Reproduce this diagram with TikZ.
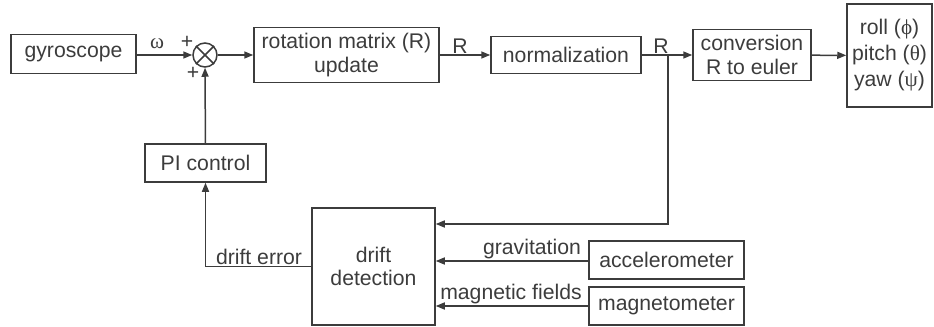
\documentclass[tikz,border=0pt]{standalone}
\usepackage{fontspec}
\setmainfont{Liberation Sans}
\newfontfamily\grk{Liberation Serif}
\usetikzlibrary{arrows.meta}
\definecolor{ink}{HTML}{3C3C3C}
\tikzset{
  block/.style={draw=ink, line width=0.75pt, text=ink, inner sep=0pt, align=center, font=\fontsize{10.6}{11.6}\selectfont},
  lbl/.style={text=ink, inner sep=0pt, font=\fontsize{10.6}{11.6}\selectfont},
  sig/.style={draw=ink, line width=0.75pt, -{Triangle[length=4.5pt,width=3.5pt]}},
  wire/.style={draw=ink, line width=0.75pt}
}
\begin{document}
\begin{tikzpicture}[x=0.5pt, y=-0.5pt]
            \useasboundingbox (0,0) rectangle (934,327);

            % Forward path
            \node[block, minimum width=62.5pt, minimum height=19.5pt] (gyro) at (73.5,54) {gyroscope};
            \node[draw=ink, line width=0.75pt, circle, minimum size=12pt, inner sep=0pt] (sum) at (205,55) {};
            \draw[wire] (sum.45) -- (sum.225) (sum.135) -- (sum.315);
            \node[block, minimum width=92.5pt, minimum height=27.5pt] (rot) at (346.5,55) {rotation matrix (R)\\update};
            \node[block, minimum width=75pt, minimum height=18.5pt] (norm) at (566,55) {normalization};
            \node[block, minimum width=59pt, minimum height=25.5pt] (conv) at (752,55) {conversion\\R to euler};
            \node[block, minimum width=42.5pt, minimum height=51.5pt, font=\fontsize{10.6}{13}\selectfont] (out) at (889.5,55.5) {roll ({\grk ϕ})\\pitch ({\grk θ})\\yaw ({\grk ψ})};

            \draw[sig] (gyro.east |- sum) -- (sum);
            \draw[sig] (sum) -- (rot);
            \draw[sig] (rot) -- (norm);
            \draw[sig] (norm) -- (conv);
            \draw[sig] (conv) -- (out);

            \node[lbl] (omega) at (157,44) {\grk ω};
            \node[lbl] (plus1) at (187,42) {+};
            \node[lbl] (plus2) at (193,73) {+};
            \node[lbl] (r1) at (460,46) {R};
            \node[lbl] (r2) at (661,46) {R};

            % Feedback path
            \node[block, minimum width=60.5pt, minimum height=19pt] (pi) at (205.5,163) {PI control};
            \node[block, minimum width=61.5pt, minimum height=58.5pt] (drift) at (373.5,266.5) {drift\\detection};
            \node[block, minimum width=77.5pt, minimum height=19pt] (acc) at (666.5,260) {accelerometer};
            \node[block, minimum width=77.5pt, minimum height=19pt] (mag) at (666.5,306) {magnetometer};

            \coordinate (tap) at (668,55);
            \draw[sig] (tap) |- (drift.east |- 0,224);
            \draw[sig] (pi) -- (sum);
            \draw[sig] (drift.west) -| (pi);
            \draw[sig] (acc.west |- 0,261) -- (drift.east |- 0,261);
            \draw[sig] (mag) -- (drift.east |- mag);

            \node[lbl] (err) at (259,257) {drift error};
            \node[lbl] (grav) at (532,249) {gravitation};
            \node[lbl] (mfield) at (511,294) {magnetic fields};
\end{tikzpicture}
\end{document}
